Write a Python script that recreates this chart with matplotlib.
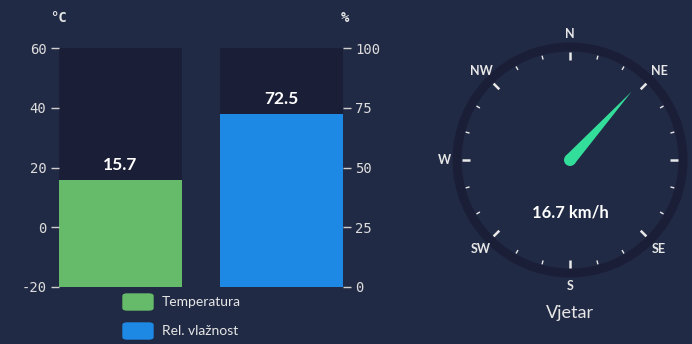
import numpy as np
import matplotlib.pyplot as plt
from matplotlib.patches import Circle, Polygon, FancyBboxPatch
from matplotlib.transforms import Bbox

plt.rcParams['axes.unicode_minus'] = False

# data
temperature = 15.7
humidity = 72.5
wind_speed = 16.7
wind_dir = 42  # degrees from north
temp_ticks = [-20, 0, 20, 40, 60]
hum_ticks = [0, 25, 50, 75, 100]
compass_labels = ['N', 'NE', 'SE', 'S', 'SW', 'W', 'NW']
compass_angles = [0, 45, 135, 180, 225, 270, 315]

BG = '#212a44'
TRACK = '#1b1e37'
GREEN = '#66bb6a'
BLUE = '#1e88e5'
NEEDLE = '#33dd9a'
TXT = '#e6e6e6'
FONT = 'Lato'

W, H = 692, 344
fig = plt.figure(figsize=(W / 100, H / 100), dpi=100, facecolor=BG)


def fx(px):
    return px / W


def fy(py):
    return 1 - py / H


# ---- bars ----
ax = fig.add_axes([fx(59), fy(287), fx(343 - 59), fy(48) - fy(287)])
ax.set_facecolor('none')
ax2 = ax.twinx()
w = 123 / 161
ax.set_xlim(-w / 2, 1 + w / 2)
ax.set_ylim(temp_ticks[0], temp_ticks[-1])
ax2.set_ylim(hum_ticks[0], hum_ticks[-1])

ax.bar(0, temp_ticks[-1] - temp_ticks[0], bottom=temp_ticks[0], width=w, color=TRACK)
ax.bar(0, temperature - temp_ticks[0], bottom=temp_ticks[0], width=w, color=GREEN)
ax2.bar(1, hum_ticks[-1], width=w, color=TRACK)
ax2.bar(1, humidity, width=w, color=BLUE)
ax.text(0, temperature + 2.5, f'{temperature}', ha='center', va='bottom', color='white',
        fontsize=12.5, fontweight='bold', family=FONT)
ax2.text(1, humidity + 3, f'{humidity}', ha='center', va='bottom', color='white',
         fontsize=12.5, fontweight='bold', family=FONT)

for a, ticks in ((ax, temp_ticks), (ax2, hum_ticks)):
    a.set_yticks(ticks)
    a.set_xticks([])
    for s in a.spines.values():
        s.set_visible(False)
    a.tick_params(axis='y', colors='#cfcfcf', length=6, width=1, pad=3, labelsize=10)
    for lab in a.get_yticklabels():
        lab.set_family('DejaVu Sans Mono')
        lab.set_color('#dddddd')

# the right tick labels are cut off at the edge of the chart canvas
canvas_clip = Bbox.from_extents(0, 0, 380, H)
for lab in ax2.get_yticklabels():
    lab.set_clip_box(canvas_clip)
    lab.set_clip_on(True)

fig.text(fx(58), fy(18), '°C', color=TXT, fontsize=10, fontweight='bold',
         family='DejaVu Sans Mono', ha='center', va='center')
fig.text(fx(345), fy(18), '%', color=TXT, fontsize=10, fontweight='bold',
         family='DejaVu Sans Mono', ha='center', va='center')

# legend
for py, col, lab in ((302, GREEN, 'Temperatura'), (331, BLUE, 'Rel. vlažnost')):
    fig.patches.append(FancyBboxPatch((fx(123), fy(py + 8)), fx(30), fy(py - 8) - fy(py + 8),
                                      boxstyle='round,pad=0,rounding_size=0.006',
                                      transform=fig.transFigure, color=col))
    fig.text(fx(162), fy(py), lab, color=TXT, fontsize=10, family=FONT, va='center')

# ---- compass ----
cx, cy = 570, 160
size = 300
cax = fig.add_axes([fx(cx - size / 2), fy(cy + size / 2), fx(size), fy(cy - size / 2) - fy(cy + size / 2)])
cax.set_xlim(-size / 2, size / 2)
cax.set_ylim(-size / 2, size / 2)
cax.set_aspect('equal')
cax.axis('off')

cax.add_patch(Circle((0, 0), 113, fill=False, ec=TRACK, lw=9 * 0.72))
for i in range(24):
    ang = np.radians(i * 15)
    if i % 3 == 0:
        r0, r1, lw = 100, 108, 1.8
    else:
        r0, r1, lw = 104, 108, 1.0
    cax.plot([r0 * np.sin(ang), r1 * np.sin(ang)], [r0 * np.cos(ang), r1 * np.cos(ang)],
             color='#e8e8e8', lw=lw, solid_capstyle='butt')

for lab, a in zip(compass_labels, compass_angles):
    t = np.radians(a)
    cax.text(126 * np.sin(t), 126 * np.cos(t), lab, ha='center', va='center', color=TXT,
             fontsize=9, fontweight='bold', family=FONT)

t = np.radians(wind_dir)
tip = (92 * np.sin(t), 92 * np.cos(t))
perp = (np.cos(t), -np.sin(t))
base_r = 6
needle = Polygon([(base_r * perp[0], base_r * perp[1]), tip, (-base_r * perp[0], -base_r * perp[1])],
                 closed=True, color=NEEDLE, lw=0)
cax.add_patch(needle)
cax.add_patch(Circle((0, 0), base_r, color=NEEDLE, lw=0))

cax.text(0, -53, f'{wind_speed} km/h', ha='center', va='center', color='white',
         fontsize=12, fontweight='bold', family=FONT)
fig.text(fx(cx), fy(313), 'Vjetar', ha='center', va='center', color=TXT, fontsize=13, family=FONT)

fig.savefig('out.png', dpi=100, facecolor=BG)
